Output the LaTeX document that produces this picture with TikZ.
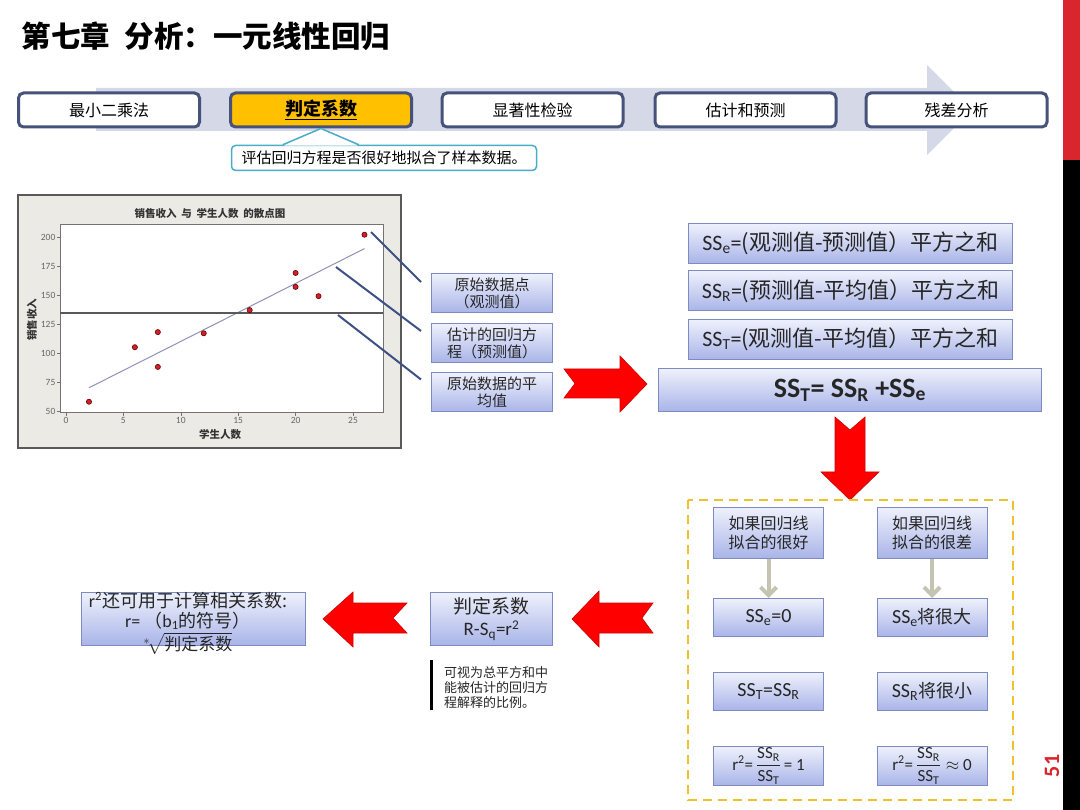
\documentclass[tikz,border=0pt]{standalone}
\usepackage{fontspec}
\usepackage{amsmath}
\setmainfont{Carlito}
\newfontfamily\cjk{Noto Sans CJK SC}
\usetikzlibrary{calc,arrows.meta}

\definecolor{procline}{HTML}{46527A}
\definecolor{bandcol}{HTML}{D5D9E7}
\definecolor{activecol}{HTML}{FFC000}
\definecolor{callcol}{HTML}{4BACC6}
\definecolor{boxtop}{HTML}{EEF1FC}
\definecolor{boxbot}{HTML}{A9B4E8}
\definecolor{boxline}{HTML}{7D8BC0}
\definecolor{leadcol}{HTML}{3F5184}
\definecolor{dashcol}{HTML}{EEC22E}
\definecolor{greyarr}{HTML}{C3C5B2}
\definecolor{arrred}{HTML}{FF0000}
\definecolor{stripred}{HTML}{D9262E}
\definecolor{plotbg}{HTML}{ECEAE5}
\definecolor{regcol}{HTML}{8E92B8}
\definecolor{dotred}{HTML}{D0202A}

\tikzset{
  procbox/.style={draw=procline, line width=3pt, rounded corners=5pt, fill=white,
    minimum width=181pt, minimum height=34pt, font=\cjk\fontsize{16}{18}\selectfont},
  bluebox/.style={draw=boxline, line width=1pt, top color=boxtop, bottom color=boxbot,
    align=center, text=black!85, inner sep=2pt},
  leader/.style={draw=leadcol, line width=2pt},
  downarr/.style={draw=greyarr, line width=4pt, -{Straight Barb[length=8pt,width=16pt]}},
  redblock/.style={fill=arrred, draw=red!80!black, line width=0.6pt},
  ticklab/.style={font=\fontsize{9.5}{10}\selectfont, text=black!60, inner sep=1.5pt},
  plotlab/.style={font=\cjk\bfseries\fontsize{10.5}{12}\selectfont, text=black!80}
}

\begin{document}
\begin{tikzpicture}[x=1pt, y=-1pt]
\useasboundingbox (0,0) rectangle (1080,810);
\fill[white] (0,0) rectangle (1080,810);

\node[anchor=west, font=\cjk\bfseries\fontsize{29.5}{31}\selectfont] (title) at (18,36) {第七章\hspace{0.5em}分析：一元线性回归};

\fill[bandcol] (96,88) -- (927,88) -- (927,65) -- (972,110) -- (927,155) -- (927,131) -- (96,131) -- cycle;
\node[procbox] (lsq) at (109,110) {最小二乘法};
\node[procbox, fill=activecol, font=\cjk\bfseries\fontsize{18}{20}\selectfont] (rsq) at (321,110) {\underline{判定系数}};
\node[procbox] (sig) at (532.5,110) {显著性检验};
\node[procbox] (est) at (745.5,110) {估计和预测};
\node[procbox] (res) at (956.5,110) {残差分析};

\node[draw=callcol, line width=1.5pt, rounded corners=4pt, fill=white, minimum width=305pt, minimum height=25pt,
  font=\cjk\fontsize{15}{17}\selectfont] (hint) at (384,158) {评估回归方程是否很好地拟合了样本数据。};
\fill[white] ($(hint.north west)+(53,0.9)$) -- (rsq.south) -- ($(hint.north west)+(127,0.9)$) -- cycle;
\draw[callcol, line width=1.5pt, line join=round] ($(hint.north west)+(52,0)$) -- (rsq.south) -- ($(hint.north west)+(128,0)$);

\filldraw[fill=plotbg, draw=black!65, line width=1.5pt] (18,195) rectangle (401,448);
\filldraw[fill=white, draw=black!55, line width=1pt] (60,225) rectangle (383,413);
\node[plotlab] (ptitle) at (210,213) {销售收入\ \ 与\ \ 学生人数\ \ 的散点图};
\node[plotlab] (xlab) at (220,434) {学生人数};
\node[plotlab, rotate=90] (ylab) at (32,320) {销售收入};
\begin{scope}[shift={(66,411)}, x=11.48pt, y=1.16pt]
\foreach \t in {0,5,...,25} {
  \draw[black!55] (\t,-1.7) -- (\t,-4.3);
  \node[ticklab, below] at (\t,-4.3) {\t};
}
\foreach \v in {50,75,...,200} {
  \draw[black!55] (-0.52,\v-50) -- (-0.78,\v-50);
  \node[ticklab, left] at (-0.78,\v-50) {\v};
}
\draw[regcol, line width=1pt] (2,20) -- (26,140);
\draw[black!65, line width=1.2pt] (-0.52,84.5) -- (27.61,84.5);
\foreach \a/\b in {2/58,6/105,8/88,8/118,12/117,16/137,20/157,20/169,22/149,26/202}
  \filldraw[fill=dotred, draw=red!40!black, line width=0.6pt] (\a,\b-50) circle (2.6pt);
\end{scope}

\coordinate (obspt) at (371,232);
\coordinate (regpt) at (336,267);
\coordinate (meanpt) at (338,315);
\node[bluebox, minimum width=121pt, minimum height=39pt, font=\cjk\fontsize{15}{17}\selectfont] (obsbox) at (492,293) {原始数据点\\（观测值）};
\node[bluebox, minimum width=121pt, minimum height=39pt, font=\cjk\fontsize{15}{17}\selectfont] (estbox) at (492,343) {估计的回归方\\程（预测值）};
\node[bluebox, minimum width=121pt, minimum height=39pt, font=\cjk\fontsize{15}{17}\selectfont] (meanbox) at (492,392.5) {原始数据的平\\均值};
\draw[leader] (obspt) -- ([shift={(-10,9)}]obsbox.north west);
\draw[leader] (regpt) -- ([shift={(-10,8)}]estbox.north west);
\draw[leader] (meanpt) -- ([shift={(-10,7)}]meanbox.north west);

\fill[redblock] (564,369) -- (620,369) -- (620,356) -- (647,384) -- (620,412) -- (620,398) -- (564,398) -- (575,383.5) -- cycle;

\node[bluebox, minimum width=324pt, minimum height=40pt, font=\fontsize{22}{24}\selectfont] (sse) at (850.5,243.5) {SS\textsubscript{e}={\cjk (观测值-预测值）平方之和}};
\node[bluebox, minimum width=324pt, minimum height=40pt, font=\fontsize{22}{24}\selectfont] (ssr) at (850.5,291) {SS\textsubscript{R}={\cjk (预测值-平均值）平方之和}};
\node[bluebox, minimum width=324pt, minimum height=40pt, font=\fontsize{22}{24}\selectfont] (sst) at (850.5,339.5) {SS\textsubscript{T}={\cjk (观测值-平均值）平方之和}};
\node[bluebox, minimum width=383pt, minimum height=43pt, font=\bfseries\fontsize{28}{30}\selectfont] (ssum) at (850,390) {SS\textsubscript{T}= SS\textsubscript{R} +SS\textsubscript{e}};

\fill[redblock] (835,417) -- (850,430) -- (865,417) -- (865,472) -- (879,472) -- (850,500) -- (821,472) -- (835,472) -- cycle;

\draw[dashcol, line width=2.5pt, dash pattern=on 9pt off 6pt] (688,500) rectangle (1013,800);
\node[bluebox, minimum width=110pt, minimum height=51pt, font=\cjk\fontsize{16}{19}\selectfont] (good) at (768.5,533) {如果回归线\\拟合的很好};
\node[bluebox, minimum width=110pt, minimum height=51pt, font=\cjk\fontsize{16}{19}\selectfont] (poor) at (932,533) {如果回归线\\拟合的很差};
\node[bluebox, minimum width=110pt, minimum height=38pt, font=\fontsize{20}{22}\selectfont] (goodsse) at (768.5,617.5) {SS\textsubscript{e}=0};
\node[bluebox, minimum width=110pt, minimum height=38pt, font=\fontsize{20}{22}\selectfont] (poorsse) at (932,617.5) {SS\textsubscript{e}{\cjk\fontsize{18}{20}\selectfont 将很大}};
\node[bluebox, minimum width=110pt, minimum height=38pt, font=\fontsize{20}{22}\selectfont] (goodsst) at (768.5,691.5) {SS\textsubscript{T}=SS\textsubscript{R}};
\node[bluebox, minimum width=110pt, minimum height=38pt, font=\fontsize{20}{22}\selectfont] (poorssr) at (932,691.5) {SS\textsubscript{R}{\cjk\fontsize{18}{20}\selectfont 将很小}};
\node[bluebox, minimum width=110pt, minimum height=39pt, inner sep=0pt, font=\fontsize{17}{18}\selectfont] (goodr) at (768.5,766) {r\textsuperscript{2}=\,$\dfrac{\mbox{SS\textsubscript{R}}}{\mbox{SS\textsubscript{T}}}$\,= 1};
\node[bluebox, minimum width=110pt, minimum height=39pt, inner sep=0pt, font=\fontsize{17}{18}\selectfont] (poorr) at (932,766) {r\textsuperscript{2}=\,$\dfrac{\mbox{SS\textsubscript{R}}}{\mbox{SS\textsubscript{T}}}\approx$ 0};
\draw[downarr] (good) -- (goodsse);
\draw[downarr] (poor) -- (poorsse);

\fill[redblock] (653,603) -- (599,603) -- (599,591) -- (572,619) -- (599,647) -- (599,633) -- (653,633) -- (642,618) -- cycle;
\node[bluebox, minimum width=122pt, minimum height=53pt, font=\fontsize{19}{22}\selectfont] (rsqbox) at (491.5,619) {{\cjk 判定系数}\\R-S\textsubscript{q}=r\textsuperscript{2}};
\node[anchor=north west, align=left, inner sep=0pt, font=\cjk\fontsize{13}{15}\selectfont, text=black!85] (note) at (444,666) {可视为总平方和中\\能被估计的回归方\\程解释的比例。};
\draw[line width=3pt] ([shift={(-13,-6)}]note.north west) -- ([shift={(-13,2)}]note.south west);

\fill[redblock] (407,603) -- (353,603) -- (353,592) -- (323,619) -- (353,647) -- (353,633) -- (407,633) -- (393,618) -- cycle;
\node[bluebox, minimum width=224pt, minimum height=53pt] (corr) at (193.5,619) {};
\node[align=center, inner sep=0pt, font=\fontsize{18}{20}\selectfont, text=black!85] (corrtxt) at (188,623)
  {r\textsuperscript{2}{\cjk 还可用于计算相关系数:}\\r= {\cjk （}b\textsubscript{1}{\cjk 的符号）}\\[2pt]$^{*}\!\sqrt{\mbox{\cjk\fontsize{17}{20}\selectfont 判定系数}}$};

\fill[stripred] (1063,0) rectangle (1080,160);
\fill[black] (1063,160) rectangle (1080,810);
\node[rotate=90, text=stripred, font=\bfseries\fontsize{22}{22}\selectfont] (pageno) at (1052,766) {51};
\end{tikzpicture}
\end{document}
